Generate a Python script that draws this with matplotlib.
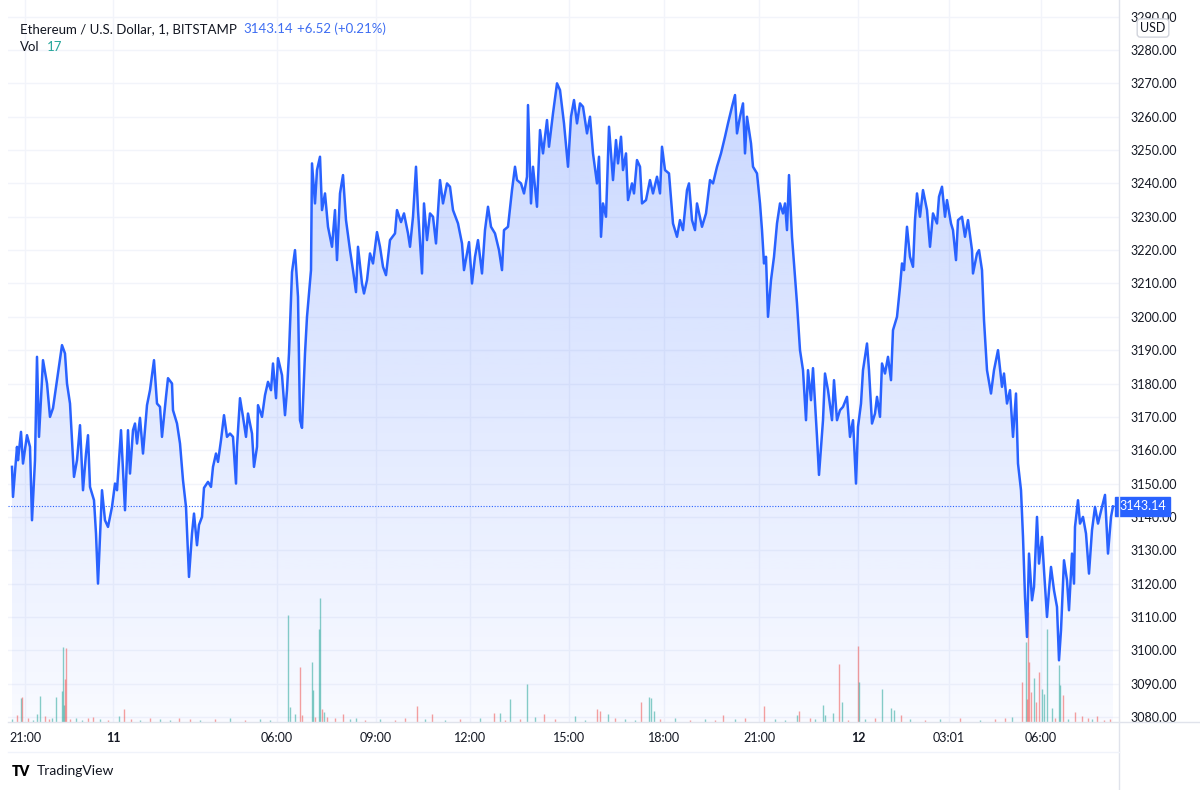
import numpy as np
import matplotlib.pyplot as plt
from matplotlib.transforms import blended_transform_factory
from matplotlib.patches import Polygon
from matplotlib.lines import Line2D

plt.rcParams['font.family'] = ['Lato', 'DejaVu Sans']

# bar slot (time axis, uneven because of missing 1-min bars) and close price
slot = [12, 13, 17, 18, 21, 23, 27, 30, 32, 35, 37, 39, 43, 47, 50, 53, 58, 62, 65, 67, 70, 74, 77, 80, 83, 86, 88, 90,
        94, 96, 98, 102, 105, 108, 112, 115, 117, 121, 125, 128, 130, 133, 135, 137, 140, 143, 147, 150, 154, 157, 160,
        162, 166, 168, 172, 173, 177, 180, 183, 186, 189, 192, 194, 197, 199, 202, 204, 208, 211, 213, 216, 218, 221,
        224, 227, 230, 233, 236, 237, 240, 243, 246, 248, 252, 254, 257, 258, 262, 265, 268, 271, 273, 276, 278, 282,
        285, 287, 289,
        292, 295, 298, 300, 302, 305, 307, 311, 312, 315, 317, 320, 322, 325, 328, 332, 335, 337, 340, 343, 346, 350,
        353, 356, 358, 362, 364, 367, 370, 373, 377, 380, 383, 386, 390, 395, 397, 401, 404, 408, 410, 413, 416, 418,
        422, 424, 427, 430, 433, 436, 440, 443, 447, 450, 453, 458, 462, 464, 467, 469, 472, 475, 478, 482, 485, 488,
        491, 495, 499, 502, 504, 508, 512, 515, 517, 521, 524, 527, 528, 531, 533, 537, 540, 543, 547, 549, 553, 557,
        560, 564, 568, 571, 574, 577, 580, 583, 587, 590, 593, 597, 599, 601, 603, 606, 609, 613, 616, 618, 621, 623,
        626, 628, 632, 634, 637, 640, 642, 646, 650, 653, 657, 660, 662, 665, 669, 673, 677, 680, 683, 687, 689, 692,
        695, 697, 702, 706, 710, 713, 717, 721, 725, 728, 732, 735, 737, 740, 743, 745, 747, 751, 753, 757, 760, 762,
        764, 766, 768, 771, 774, 777, 780, 783, 785, 787, 789, 792, 795, 797, 800, 803, 806, 808, 811, 813, 817, 819,
        823, 825, 828, 832, 834, 837,
        840, 843, 847, 850, 853, 856, 858, 861, 863, 867, 869, 872, 875, 877, 880, 882, 885, 888, 891, 893, 897, 900,
        902, 904, 907, 910, 913, 915, 917, 920, 923, 927, 930, 933, 937, 939, 942, 945, 947, 951, 953, 956, 958, 962,
        965, 968, 972, 973, 977, 979, 982, 984, 987, 991, 994, 998, 1002, 1004, 1007, 1010, 1013, 1016, 1018, 1021,
        1023, 1025, 1027, 1029, 1032, 1034, 1037, 1039, 1042, 1044, 1047, 1049, 1051, 1054, 1057, 1059, 1061, 1064,
        1067, 1069, 1072, 1074, 1075, 1078, 1080, 1083, 1086, 1089, 1092, 1095, 1098, 1102, 1105, 1108, 1111, 1113]

price = [3155, 3146, 3161, 3157, 3165.5, 3156, 3164.5, 3161, 3139, 3157, 3188, 3164, 3187, 3180, 3170, 3172.6, 3183,
         3191.5, 3189, 3180, 3174, 3152, 3157, 3167.5, 3148, 3159, 3164.5, 3149, 3145, 3135, 3120, 3148, 3139, 3137,
         3143, 3150, 3148, 3166, 3142, 3166, 3153, 3166, 3168, 3162, 3169.7, 3159, 3173.5, 3178, 3187, 3174, 3173, 3164,
         3176, 3181.6, 3180, 3172, 3168, 3162, 3151, 3143, 3122, 3135, 3141, 3131.5, 3137.6, 3140, 3148.7, 3150.5, 3149,
         3155, 3159, 3156.5, 3163, 3170.5, 3164, 3165, 3164, 3150, 3161, 3175.6, 3170, 3164, 3171, 3165, 3155, 3161,
         3173.5, 3170, 3176.5, 3180.5, 3178, 3186, 3175.6, 3187.6, 3182.5, 3170.5, 3178, 3189,
         3213.4, 3220, 3206, 3169, 3166.7, 3189, 3200, 3214, 3246, 3234, 3244, 3248, 3232, 3237, 3227, 3221, 3232, 3217,
         3237, 3242.5, 3229, 3220, 3214, 3207.4, 3221, 3210, 3207, 3211, 3219, 3216, 3225.4, 3221, 3215, 3212.5, 3223,
         3225, 3232, 3228.4, 3231, 3225, 3221, 3230, 3245, 3232, 3213, 3234, 3223, 3231, 3230, 3222, 3241, 3234, 3240,
         3239, 3232, 3228, 3222, 3214, 3219, 3222.4, 3210, 3218, 3223, 3213, 3226, 3233, 3227, 3225, 3220, 3214, 3226,
         3227, 3238, 3245, 3241, 3240, 3237, 3242, 3263.5, 3234, 3245, 3233, 3256, 3249, 3259, 3251, 3261, 3270,
         3268, 3258, 3245, 3260, 3265, 3258, 3264, 3263, 3255, 3260, 3249, 3240, 3248, 3224, 3234, 3230, 3257, 3241,
         3253, 3246, 3254, 3244, 3249, 3235, 3240, 3237, 3247, 3245, 3234, 3235, 3241, 3237, 3242, 3237, 3251, 3244,
         3243, 3228, 3224, 3229, 3226, 3238, 3240, 3229, 3226, 3234, 3227, 3231, 3241, 3240, 3245, 3249, 3254, 3258,
         3263, 3266.5, 3255, 3260, 3264, 3249, 3260, 3252, 3245, 3243, 3234, 3226, 3216, 3218, 3200, 3211, 3218, 3228,
         3234, 3231, 3234, 3226, 3242.5, 3224, 3212, 3204, 3190, 3184, 3169, 3184, 3175, 3184.6, 3164, 3152.6, 3169,
         3183, 3178, 3169, 3181, 3169,
         3172, 3173, 3176, 3164, 3169, 3150, 3167, 3174, 3184, 3192, 3184, 3168, 3171, 3176, 3170, 3186, 3183, 3188,
         3181, 3196, 3200, 3209, 3216, 3214, 3227, 3218, 3215, 3229, 3237, 3230, 3238, 3232, 3221, 3231, 3228, 3236,
         3239, 3230, 3235, 3228, 3226, 3217, 3229, 3230, 3224, 3229, 3220, 3213, 3219, 3220, 3214, 3199, 3184, 3177,
         3184, 3190, 3179, 3183, 3174, 3178, 3164, 3177, 3156, 3148, 3134, 3116, 3104, 3129, 3115, 3119, 3140, 3126,
         3134, 3124, 3110, 3118, 3125, 3118, 3113, 3097, 3106, 3127, 3121, 3112, 3129, 3120, 3137, 3145, 3138, 3140,
         3135, 3123, 3136, 3143, 3138, 3143, 3146.6, 3129, 3140, 3143.14]

# volume bars: slot, size, up (1 = green)
vol_slot = [17, 21, 22, 37, 40, 45, 56, 62, 63, 64, 65, 66, 76, 93, 119, 124, 179, 288, 290, 295, 300, 302, 312, 313,
            315, 319, 320, 322, 324, 327, 343, 356, 417, 432, 494, 500, 510, 527, 544, 575, 597, 600, 608, 641, 649,
            651, 654, 723, 764, 797, 799, 823, 825, 833, 839, 842, 858, 859, 882, 891, 894, 901, 1022, 1026, 1027,
            1028, 1029, 1031, 1034, 1036, 1039, 1042, 1044, 1047, 1052, 1059, 1060, 1063, 1075, 1082, 1097,
            12, 28, 33, 49, 52, 70, 82, 88, 100, 108, 131, 140, 150, 160, 170, 190, 200, 215, 230, 245, 260, 270, 335,
            350, 365, 380, 395, 405, 425, 445, 460, 480, 505, 520, 535, 555, 585, 615, 625, 635, 660, 675, 690, 705,
            715, 735, 745, 775, 785, 810, 815, 848, 865, 875, 910, 925, 940, 960, 980, 995, 1005, 1012, 1055, 1068,
            1088, 1092, 1104, 1110]
vol_size = [7, 24, 25, 8, 26, 6, 25, 31, 75, 17, 43, 74, 4, 5, 6, 13, 4, 107, 15, 8, 55, 7, 60, 32,
            5, 93, 124, 13, 10, 5, 8, 4, 16, 8, 9, 9, 23, 38, 8, 6, 13, 11, 8, 20, 25,
            24, 11, 7, 16, 7, 11, 17, 7, 9, 58, 20, 76, 40, 33, 14, 12, 7, 40, 80, 23,
            110, 60, 30, 44, 20, 50, 33, 28, 93, 14, 57, 37, 27, 10, 6, 6,
            3, 4, 2, 3, 4, 3, 2, 4, 3, 2, 3, 2, 4, 3, 2, 3, 2, 3, 4, 2, 3, 2, 4,
            3, 2, 3, 2, 4, 3, 2, 3, 4, 2, 3, 5, 3, 2, 4, 3, 2, 3, 4, 2, 3,
            2, 3, 4, 3, 2, 4, 3, 2, 3, 4, 3, 2, 3, 4, 2, 3, 4, 5, 4, 3,
            4, 3, 2, 3]
vol_up = [0, 1, 0, 1, 1, 0, 1, 1, 1, 1, 0, 0, 1, 0, 1, 0, 0, 1, 1, 1, 0, 0, 1, 1,
          0, 1, 1, 0, 1, 0, 0, 1, 0, 0, 0, 1, 1, 1, 0, 1, 0, 0, 1, 0, 1,
          1, 1, 0, 0, 1, 0, 1, 1, 1, 0, 1, 0, 1, 1, 1, 1, 0, 0, 1, 0,
          0, 0, 0, 1, 0, 0, 1, 1, 1, 1, 1, 1, 0, 0, 0, 0,
          1, 0, 1, 0, 1, 0, 1, 0, 1, 0, 0, 1, 0, 1, 1, 0, 1, 0, 1, 0, 1, 1, 0,
          1, 0, 1, 0, 0, 1, 1, 0, 1, 0, 0, 1, 0, 1, 0, 1, 1, 0, 1, 0,
          1, 0, 1, 0, 1, 1, 0, 1, 0, 1, 0, 1, 0, 1, 0, 1, 0, 0, 1, 0,
          1, 0, 1, 0]

tick_slot = [25, 113, 277, 376, 470, 569, 664, 759, 858, 949, 1041]
tick_text = ['21:00', '11', '06:00', '09:00', '12:00', '15:00', '18:00', '21:00', '12', '03:01', '06:00']
price_ticks = list(range(3080, 3300, 10))

last = price[-1]
blue = '#2962ff'
txt = '#131722'
grid_c = '#f2f4fa'
axis_c = '#e0e3eb'

fig = plt.figure(figsize=(12, 7.9), dpi=100)
ax = fig.add_axes([8 / 1200, 1 - 722 / 790, 1111 / 1200, 722 / 790])
ax.set_xlim(8, 1119)
ax.set_ylim(3078.5, 3295.0)

# gradient area under the line
grad = np.linspace(0.03, 0.25, 256).reshape(-1, 1)
rgba = np.zeros((256, 1, 4))
rgba[..., 0] = 41 / 255
rgba[..., 1] = 98 / 255
rgba[..., 2] = 1.0
rgba[..., 3] = grad
im = ax.imshow(rgba, aspect='auto', origin='lower', extent=[8, 1119, 3078.5, 3270], zorder=1)
poly = Polygon(list(zip(slot, price)) + [(slot[-1], 3078.5), (slot[0], 3078.5)], closed=True,
               facecolor='none', edgecolor='none')
ax.add_patch(poly)
im.set_clip_path(poly)

# volume bars in the bottom of the pane
vol_top = max(vol_size) / 0.172
tr = blended_transform_factory(ax.transData, ax.transAxes)
vcol = ['#26a69a' if u else '#ef5350' for u in vol_up]
ax.vlines(vol_slot, 0, np.array(vol_size) / vol_top, colors=vcol, alpha=0.55, linewidth=1.0,
          transform=tr, zorder=2)

ax.plot(slot, price, color=blue, linewidth=1.8, zorder=4, solid_joinstyle='round')
ax.axhline(last, color=blue, linewidth=0.8, linestyle=(0, (1, 1.5)), zorder=3)

# grid
for p in price_ticks:
    ax.axhline(p, color=grid_c, linewidth=1.0, zorder=0)
for s in tick_slot:
    ax.axvline(s, color=grid_c, linewidth=1.0, zorder=0)

for sp in ['top', 'left', 'right', 'bottom']:
    ax.spines[sp].set_visible(False)
# price scale and time scale borders (run past the pane like TradingView)
fig.add_artist(Line2D([1119 / 1200, 1119 / 1200], [0, 1], color=axis_c, linewidth=1.0,
                      transform=fig.transFigure))
fig.add_artist(Line2D([8 / 1200, 1], [1 - 722 / 790, 1 - 722 / 790], color=axis_c, linewidth=1.0,
                      transform=fig.transFigure))
fig.add_artist(Line2D([8 / 1200, 1119 / 1200], [1 - 752 / 790, 1 - 752 / 790], color='#f0f3fa',
                      linewidth=1.0, transform=fig.transFigure))

ax.yaxis.tick_right()
ax.set_yticks(price_ticks)
ax.set_yticklabels([f'{p:.2f}' for p in price_ticks])
ax.tick_params(axis='y', length=0, pad=8, labelsize=9, labelcolor=txt)
ax.set_xticks(tick_slot)
ax.set_xticklabels(tick_text)
ax.tick_params(axis='x', length=0, pad=7, labelsize=9, labelcolor=txt)
for lab in ax.get_xticklabels():
    if lab.get_text() in ('11', '12'):
        lab.set_fontweight('bold')

# last price tag
ax.text(1.0, last, f'{last:.2f}', transform=blended_transform_factory(ax.transAxes, ax.transData),
        ha='left', va='center', color='white', fontsize=9,
        bbox=dict(boxstyle='square,pad=0.3', facecolor=blue, edgecolor=blue), clip_on=False, zorder=6)

fig.text(1153 / 1200, 1 - 28 / 790, 'USD', ha='center', va='center', fontsize=9, color=txt,
         bbox=dict(boxstyle='round,pad=0.25', facecolor='white', edgecolor='#d1d4dc'))

# header
fig.text(20 / 1200, 1 - 29 / 790, 'Ethereum / U.S. Dollar, 1, BITSTAMP', fontsize=9.5, color=txt, va='center')
fig.text(243 / 1200, 1 - 29 / 790, '3143.14', fontsize=9.5, color='#3d6df2', va='center')
fig.text(297 / 1200, 1 - 29 / 790, '+6.52 (+0.21%)', fontsize=9.5, color='#3d6df2', va='center')
fig.text(20 / 1200, 1 - 47 / 790, 'Vol', fontsize=9.5, color=txt, va='center')
fig.text(47 / 1200, 1 - 47 / 790, '17', fontsize=9.5, color='#26a69a', va='center')

# footer logo
fig.text(12 / 1200, 1 - 771 / 790, 'TV', fontsize=10, fontweight='heavy', color='black', va='center')
fig.text(37 / 1200, 1 - 771 / 790, 'TradingView', fontsize=10, color=txt, va='center')

fig.savefig('out.png', dpi=100, facecolor='white')
